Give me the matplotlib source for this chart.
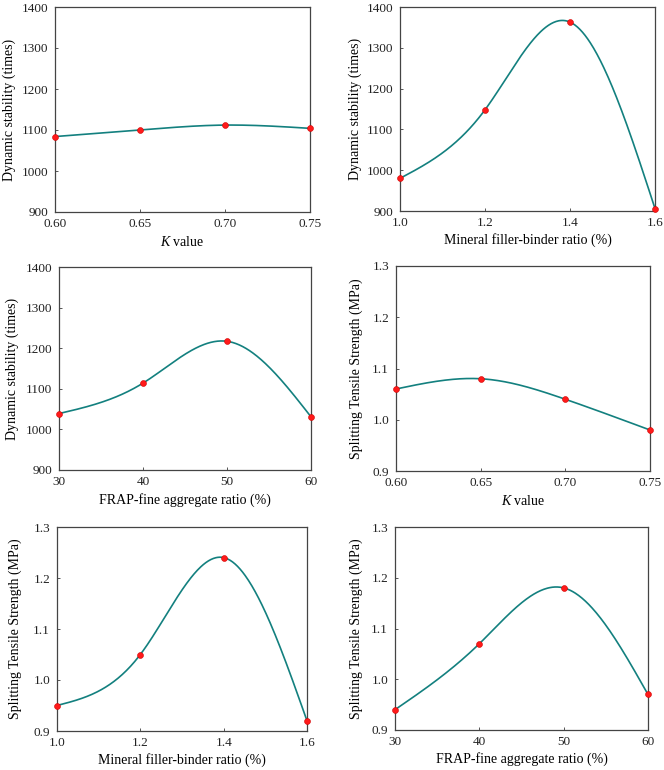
import numpy as np
import matplotlib
matplotlib.use("Agg")
import matplotlib.pyplot as plt

plt.rcParams['font.family'] = ['Liberation Serif', 'DejaVu Serif']
plt.rcParams['mathtext.fontset'] = 'custom'
plt.rcParams['mathtext.it'] = 'Liberation Serif:italic'
plt.rcParams['mathtext.rm'] = 'Liberation Serif'

k_values = [0.60, 0.65, 0.70, 0.75]
filler_ratio = [1.0, 1.2, 1.4, 1.6]
frap_ratio = [30, 40, 50, 60]

ds_k = [1084, 1100, 1112, 1104]
ds_filler = [980, 1148, 1363, 906]
ds_frap = [1039, 1114, 1217, 1031]

sts_k = [1.06, 1.08, 1.04, 0.98]
sts_filler = [0.95, 1.05, 1.24, 0.92]
sts_frap = [0.94, 1.07, 1.18, 0.97]

ds_label = 'Dynamic stability (times)'
sts_label = 'Splitting Tensile Strength (MPa)'
k_label = '$K$ value'
filler_label = 'Mineral filler-binder ratio (%)'
frap_label = 'FRAP-fine aggregate ratio (%)'

ds_ticks = [900, 1000, 1100, 1200, 1300, 1400]
sts_ticks = [0.9, 1.0, 1.1, 1.2, 1.3]


def natural_spline(x, y, n=300):
    x = np.asarray(x, float)
    y = np.asarray(y, float)
    m = len(x)
    h = np.diff(x)
    A = np.zeros((m, m))
    b = np.zeros(m)
    A[0, 0] = 1
    A[-1, -1] = 1
    for i in range(1, m - 1):
        A[i, i - 1] = h[i - 1]
        A[i, i] = 2 * (h[i - 1] + h[i])
        A[i, i + 1] = h[i]
        b[i] = 6 * ((y[i + 1] - y[i]) / h[i] - (y[i] - y[i - 1]) / h[i - 1])
    M = np.linalg.solve(A, b)
    xs = np.linspace(x[0], x[-1], n)
    ys = np.empty_like(xs)
    for j, xv in enumerate(xs):
        i = min(np.searchsorted(x, xv, side='right') - 1, m - 2)
        t1 = x[i + 1] - xv
        t0 = xv - x[i]
        ys[j] = (M[i] * t1**3 / (6 * h[i]) + M[i + 1] * t0**3 / (6 * h[i])
                 + (y[i] / h[i] - M[i] * h[i] / 6) * t1
                 + (y[i + 1] / h[i] - M[i + 1] * h[i] / 6) * t0)
    return xs, ys


fig = plt.figure(figsize=(6.64, 7.70), dpi=100)
W, H = 664, 770
# pixel boxes (left, top, right, bottom)
boxes = [
    (55, 7, 310, 212),
    (400, 7, 655, 211),
    (59, 267, 311, 470),
    (396, 266, 650, 471),
    (57, 527, 307, 731),
    (395, 527, 648, 730),
]
# label centres in pixels: (ylabel x, xlabel y)
label_pos = [(9, 242), (355, 240), (12, 500), (356, 501), (15, 760), (356, 759)]
panels = [
    (k_values, ds_k, k_label, ds_label, ds_ticks, ['0.60', '0.65', '0.70', '0.75']),
    (filler_ratio, ds_filler, filler_label, ds_label, ds_ticks, ['1.0', '1.2', '1.4', '1.6']),
    (frap_ratio, ds_frap, frap_label, ds_label, ds_ticks, ['30', '40', '50', '60']),
    (k_values, sts_k, k_label, sts_label, sts_ticks, ['0.60', '0.65', '0.70', '0.75']),
    (filler_ratio, sts_filler, filler_label, sts_label, sts_ticks, ['1.0', '1.2', '1.4', '1.6']),
    (frap_ratio, sts_frap, frap_label, sts_label, sts_ticks, ['30', '40', '50', '60']),
]

line_color = '#13807f'
for (l, t, r, b), (lx, ly), (x, y, xl, yl, yt, xtl) in zip(boxes, label_pos, panels):
    ax = fig.add_axes([l / W, 1 - b / H, (r - l) / W, (b - t) / H])
    xs, ys = natural_spline(x, y)
    ax.plot(xs, ys, color=line_color, lw=1.2, zorder=2)
    ax.scatter(x, y, s=18, color='#ff1a1a', edgecolors='#d00000', linewidths=0.4,
               zorder=3, clip_on=False)
    ax.set_xlim(x[0], x[-1])
    ax.set_ylim(yt[0], yt[-1])
    ax.set_xticks(x)
    ax.set_xticklabels(xtl)
    ax.set_yticks(yt)
    if yt[0] == 900:
        ax.set_yticklabels([str(v) for v in yt])
    else:
        ax.set_yticklabels(['%.1f' % v for v in yt])
    ax.tick_params(direction='in', length=2.5, width=0.7, color='#555555',
                   labelsize=9.5, labelcolor='#222222')
    ax.tick_params(axis='x', pad=4)
    ax.tick_params(axis='y', pad=5)
    for s in ax.spines.values():
        s.set_color('#444444')
        s.set_linewidth(0.9)
    ax.set_xlabel(xl, fontsize=10, va='center')
    ax.set_ylabel(yl, fontsize=10, va='center')
    ax.xaxis.set_label_coords(0.5, -(ly - b) / (b - t))
    ax.yaxis.set_label_coords((lx - l) / (r - l), 0.5)

fig.savefig('out.png', dpi=100)
